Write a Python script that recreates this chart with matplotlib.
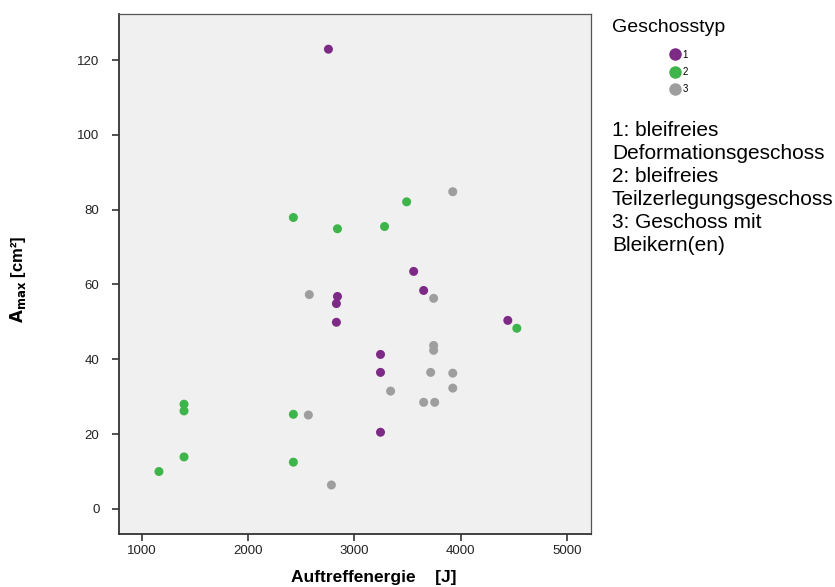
import matplotlib
matplotlib.use("Agg")
import matplotlib.pyplot as plt
from matplotlib.lines import Line2D

plt.rcParams['font.family'] = ['Liberation Sans', 'DejaVu Sans']

# Geschosstyp 1: bleifreies Deformationsgeschoss
energie_1 = [2755, 3557, 3651, 2840, 2830, 2830, 3245, 3245, 3245, 4443]
amax_1 = [122.9, 63.5, 58.4, 56.8, 54.9, 49.9, 41.3, 36.5, 20.5, 50.4]

# Geschosstyp 2: bleifreies Teilzerlegungsgeschoss
energie_2 = [1160, 1396, 1396, 1396, 2425, 2425, 2425, 2840, 3283, 3491, 4528]
amax_2 = [10.0, 13.9, 28.0, 26.2, 77.9, 25.3, 12.5, 74.9, 75.5, 82.1, 48.3]

# Geschosstyp 3: Geschoss mit Bleikern(en)
energie_3 = [2575, 2566, 2783, 3340, 3745, 3925, 3745, 3745, 3717, 3925, 3925, 3651, 3755]
amax_3 = [57.3, 25.1, 6.4, 31.5, 56.3, 84.8, 43.7, 42.4, 36.5, 36.3, 32.3, 28.5, 28.5]

typ_labels = ['1', '2', '3']
typ_colors = ['#7D2A86', '#3DB54A', '#9E9E9E']

x_ticks = [1000, 2000, 3000, 4000, 5000]
y_ticks = [0, 20, 40, 60, 80, 100, 120]

fig = plt.figure(figsize=(8.35, 5.87), dpi=100)
ax = fig.add_axes([0.1425, 0.0903, 0.5653, 0.8858])
ax.set_facecolor('#F0F0F0')

for xs, ys, c in zip([energie_1, energie_2, energie_3],
                     [amax_1, amax_2, amax_3], typ_colors):
    ax.scatter(xs, ys, s=42, color=c, edgecolors='none', zorder=3)

ax.set_xlim(784, 5226)
ax.set_ylim(-6.7, 132.3)
ax.set_xticks(x_ticks)
ax.set_yticks(y_ticks)
ax.tick_params(labelsize=9.5, length=5, width=1.2, color='#333333', labelcolor='#222222')
ax.tick_params(axis='y', pad=9)
ax.tick_params(axis='x', pad=3)

for side in ['left', 'bottom']:
    ax.spines[side].set_color('#333333')
    ax.spines[side].set_linewidth(1.3)
for side in ['top', 'right']:
    ax.spines[side].set_color('#555555')
    ax.spines[side].set_linewidth(0.9)

ax.set_xlabel('Auftreffenergie    [J]', fontsize=12.5, fontweight='bold')
ax.xaxis.set_label_coords(0.54, -0.07)
ax.set_ylabel(r'$\mathbf{A_{max}}$ [cm²]', fontsize=12, fontweight='bold')
ax.yaxis.set_label_coords(-0.193, 0.49)

# Legende
fig.text(612 / 835, 1 - 27 / 587, 'Geschosstyp', fontsize=14, va='center', ha='left')
handles = [Line2D([0], [0], marker='o', linestyle='none', markersize=9,
                  markerfacecolor=c, markeredgecolor='none') for c in typ_colors]
leg = fig.legend(handles, typ_labels, loc='upper left',
                 bbox_to_anchor=(662 / 835, 1 - 45 / 587), frameon=False,
                 fontsize=7, handletextpad=0.0, labelspacing=0.75,
                 borderpad=0, handlelength=1.6)

erklaerung = ('1: bleifreies\nDeformationsgeschoss\n2: bleifreies\n'
              'Teilzerlegungsgeschoss\n3: Geschoss mit\nBleikern(en)')
fig.text(612 / 835, 1 - 121 / 587, erklaerung, fontsize=15, va='top', ha='left',
         linespacing=1.26)

fig.savefig('out.png', dpi=100)
